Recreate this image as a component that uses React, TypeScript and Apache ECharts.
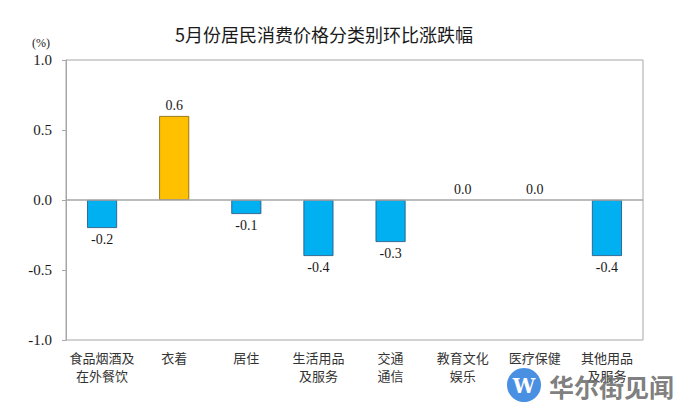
import React, { useEffect, useRef } from "react";
import * as echarts from "echarts";

const title = "5月份居民消费价格分类别环比涨跌幅";
const categories = [
  "食品烟酒及\n在外餐饮",
  "衣着",
  "居住",
  "生活用品\n及服务",
  "交通\n通信",
  "教育文化\n娱乐",
  "医疗保健",
  "其他用品\n及服务",
];
const values = [-0.2, 0.6, -0.1, -0.4, -0.3, 0.0, 0.0, -0.4];
const yTicks = { min: -1.0, max: 1.0, interval: 0.5 };
const unitLabel = "(%)";
const watermark = "华尔街见闻";

export default function App() {
  const ref = useRef<HTMLDivElement>(null);
  useEffect(() => {
    if (!ref.current) return;
    const chart = echarts.init(ref.current, undefined, { renderer: "svg" });
    const serif = "'Liberation Serif', 'Times New Roman', serif";
    const sans = "'Noto Sans CJK SC', 'Microsoft YaHei', sans-serif";
    chart.setOption({
      animation: false,
      backgroundColor: "#ffffff",
      title: {
        text: title,
        left: 319,
        textAlign: "center",
        top: 20,
        textStyle: { fontFamily: sans, fontSize: 18, fontWeight: "normal", color: "#1a1a1a" },
      },
      grid: {
        left: 66,
        right: 37,
        top: 60,
        bottom: 73,
        show: true,
        borderColor: "#a6a6a6",
        borderWidth: 1,
        backgroundColor: "transparent",
      },
      xAxis: {
        type: "category",
        data: categories,
        axisLine: { onZero: false, show: false },
        axisTick: { show: false },
        axisLabel: {
          interval: 0,
          fontFamily: sans,
          fontSize: 13,
          lineHeight: 18,
          color: "#333333",
          margin: 8,
        },
      },
      yAxis: {
        type: "value",
        min: yTicks.min,
        max: yTicks.max,
        interval: yTicks.interval,
        axisLine: { show: true, lineStyle: { color: "#a6a6a6" } },
        axisTick: { show: true, length: 4, lineStyle: { color: "#a6a6a6" } },
        splitLine: { show: false },
        axisLabel: {
          fontFamily: serif,
          fontSize: 15,
          color: "#1a1a1a",
          margin: 14,
          formatter: (v: number) => v.toFixed(1),
        },
      },
      series: [
        {
          type: "bar",
          barWidth: 30,
          data: values.map((v) => ({
            value: v,
            itemStyle: {
              color: v > 0 ? "#ffc000" : "#00b0f0",
              borderColor: v > 0 ? "#7f6000" : "#1f4e79",
              borderWidth: v === 0 ? 0 : 0.8,
            },
            label: {
              position: v < 0 ? "bottom" : "top",
            },
          })),
          label: {
            show: true,
            fontFamily: serif,
            fontSize: 14,
            color: "#1a1a1a",
            distance: 4,
            formatter: (p: any) => Number(p.value).toFixed(1),
          },
          markLine: {
            silent: true,
            symbol: "none",
            label: { show: false },
            lineStyle: { color: "#a6a6a6", type: "solid", width: 1.5 },
            data: [{ yAxis: 0 }],
          },
        },
      ],
      graphic: [
        {
          type: "text",
          left: 32,
          top: 37,
          style: { text: unitLabel, fontFamily: serif, fontSize: 12, fill: "#1a1a1a" },
        },
        {
          type: "circle",
          shape: { cx: 524, cy: 385, r: 17 },
          style: { fill: "#4a90e2" },
          z: 100,
        },
        {
          type: "text",
          x: 524,
          y: 386,
          style: {
            text: "W",
            fontFamily: "'DejaVu Serif', serif",
            fontWeight: "bold",
            fontSize: 20,
            fill: "#ffffff",
            align: "center",
            verticalAlign: "middle",
          },
          z: 101,
        },
        {
          type: "text",
          x: 549,
          y: 386,
          style: {
            text: watermark,
            fontFamily: "'Noto Sans CJK SC', sans-serif",
            fontWeight: "bold",
            fontSize: 25,
            fill: "rgba(110,110,110,0.9)",
            verticalAlign: "middle",
          },
          z: 100,
        },
      ],
    });
    return () => chart.dispose();
  }, []);
  return (
    <div
      ref={ref}
      style={{ position: "fixed", left: 0, top: 0, width: 680, height: 413, background: "#fff" }}
    />
  );
}
